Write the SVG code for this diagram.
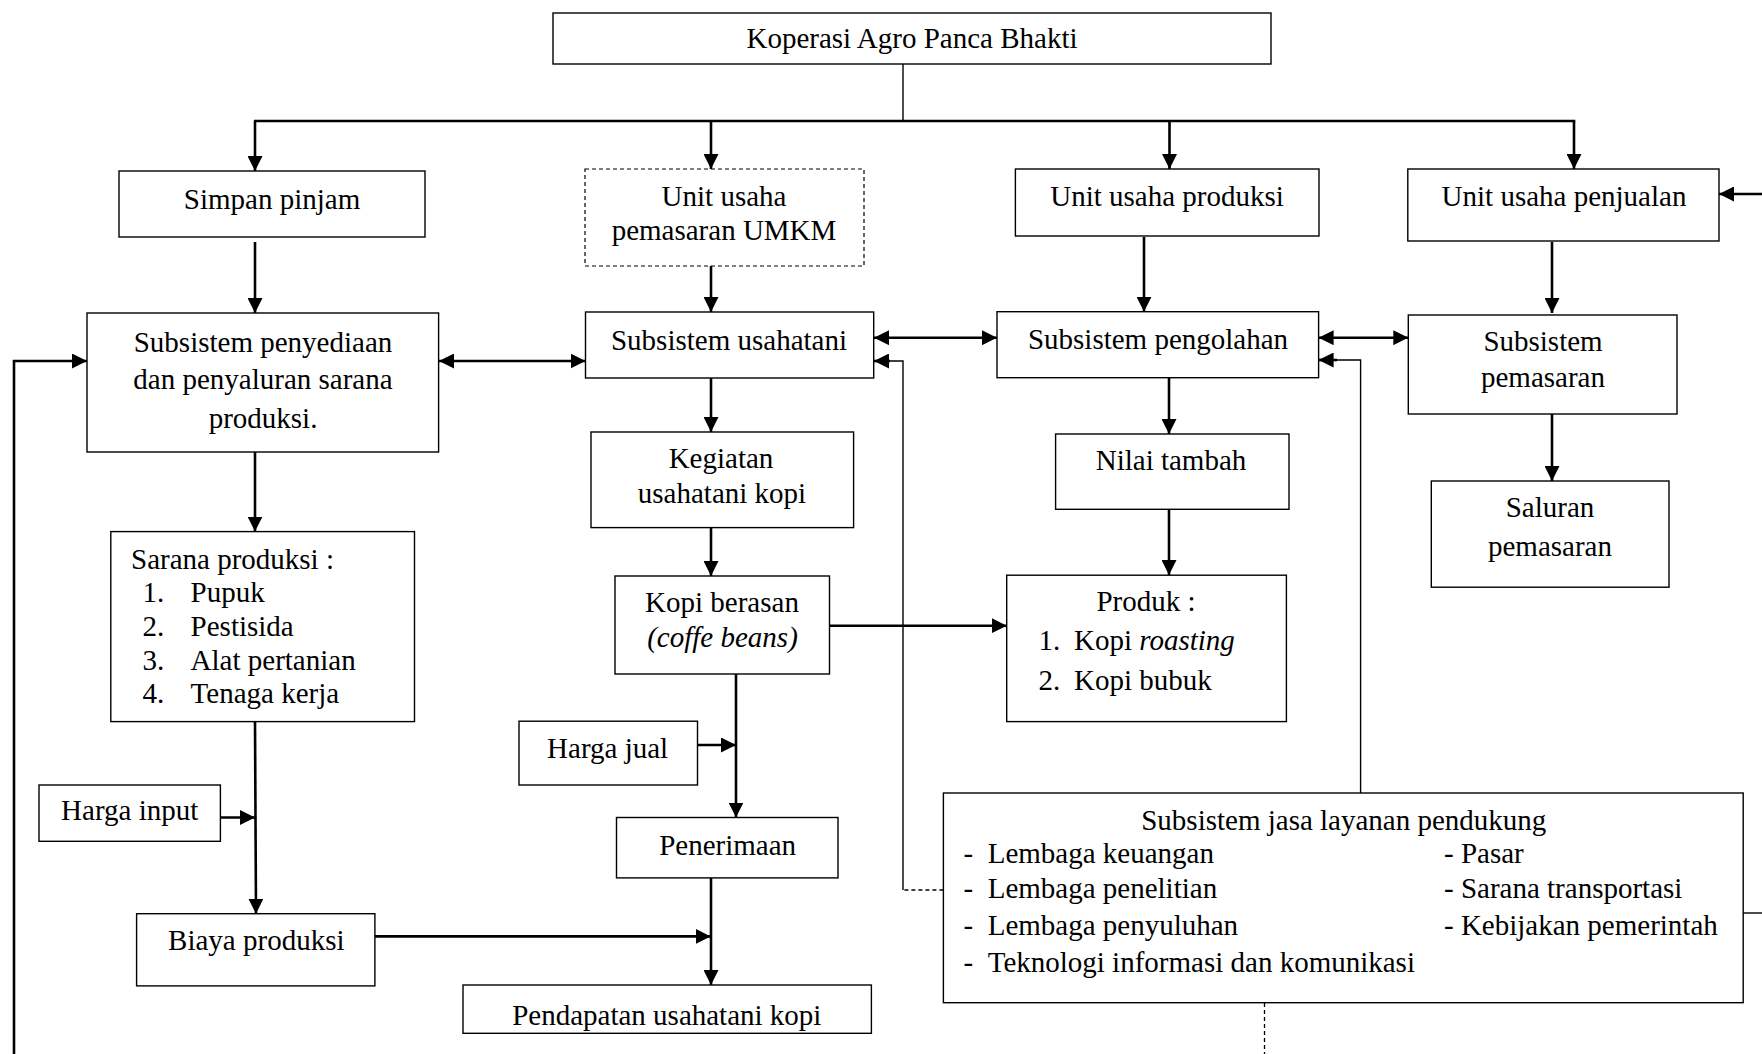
<svg xmlns="http://www.w3.org/2000/svg" width="1762" height="1054" viewBox="0 0 1762 1054">
<defs>
<marker id="ah" viewBox="0 0 10 10" refX="10" refY="5" markerWidth="15" markerHeight="15" markerUnits="userSpaceOnUse" orient="auto-start-reverse" preserveAspectRatio="none"><path d="M0,0 L10,5 L0,10 z" fill="#000"/></marker>
<clipPath id="clipPend"><rect x="463" y="985" width="408.4" height="47"/></clipPath>
<style>
.box{fill:#fff;stroke:#000;stroke-width:1.4}
.dbox{fill:#fff;stroke:#000;stroke-width:1.2;stroke-dasharray:4 3}
text{font-family:"Liberation Serif","Times New Roman",serif;font-size:29px;fill:#000}
.c{text-anchor:middle}
.it{font-style:italic}
.ln{fill:none;stroke:#000;stroke-width:2.6}
.thin{fill:none;stroke:#000;stroke-width:1.4}
.dash{fill:none;stroke:#000;stroke-width:1.3;stroke-dasharray:4 3}
</style>
</defs>
<rect width="1762" height="1054" fill="#fff"/>

<g id="connectors">
<line class="thin" x1="903" y1="64" x2="903" y2="121"/>
<line class="ln" x1="254" y1="121" x2="1575.3" y2="121"/>
<line class="ln" x1="255" y1="121" x2="255" y2="171" marker-end="url(#ah)"/>
<line class="ln" x1="711" y1="121" x2="711" y2="169" marker-end="url(#ah)"/>
<line class="ln" x1="1169.5" y1="121" x2="1169.5" y2="169" marker-end="url(#ah)"/>
<line class="ln" x1="1574" y1="121" x2="1574" y2="169" marker-end="url(#ah)"/>
<line class="ln" x1="255" y1="242" x2="255" y2="313" marker-end="url(#ah)"/>
<line class="ln" x1="711" y1="266" x2="711" y2="312" marker-end="url(#ah)"/>
<line class="ln" x1="439" y1="361" x2="585.5" y2="361" marker-start="url(#ah)" marker-end="url(#ah)"/>
<polyline class="ln" points="14,1054 14,361 87,361" marker-end="url(#ah)"/>
<line class="ln" x1="711" y1="378" x2="711" y2="432" marker-end="url(#ah)"/>
<line class="ln" x1="711" y1="528" x2="711" y2="576" marker-end="url(#ah)"/>
<line class="ln" x1="829.5" y1="625.7" x2="1006.7" y2="625.7" marker-end="url(#ah)"/>
<line class="ln" x1="1144" y1="237" x2="1144" y2="311.7" marker-end="url(#ah)"/>
<line class="ln" x1="874" y1="337.7" x2="997" y2="337.7" marker-start="url(#ah)" marker-end="url(#ah)"/>
<line class="dash" x1="943.4" y1="890" x2="903" y2="890"/>
<polyline class="thin" points="903,890 903,361 888,361"/>
<line class="ln" x1="890" y1="361" x2="874" y2="361" marker-end="url(#ah)"/>
<line class="ln" x1="1318.6" y1="337.7" x2="1408.3" y2="337.7" marker-start="url(#ah)" marker-end="url(#ah)"/>
<polyline class="thin" points="1360.6,793 1360.6,360 1335,360"/>
<line class="ln" x1="1337" y1="360" x2="1318.6" y2="360" marker-end="url(#ah)"/>
<line class="ln" x1="1552" y1="242" x2="1552" y2="313" marker-end="url(#ah)"/>
<line class="ln" x1="1169" y1="378" x2="1169" y2="434" marker-end="url(#ah)"/>
<line class="ln" x1="1552" y1="414" x2="1552" y2="481" marker-end="url(#ah)"/>
<line class="ln" x1="1169" y1="509" x2="1169" y2="575" marker-end="url(#ah)"/>
<line class="ln" x1="255" y1="452" x2="255" y2="531.6" marker-end="url(#ah)"/>
<line class="ln" x1="255" y1="721.6" x2="256" y2="913.7" marker-end="url(#ah)"/>
<line class="ln" x1="220.4" y1="817.5" x2="255" y2="817.5" marker-end="url(#ah)"/>
<line class="ln" x1="375" y1="936.4" x2="710.7" y2="936.4" marker-end="url(#ah)"/>
<line class="ln" x1="736" y1="674" x2="736" y2="817.5" marker-end="url(#ah)"/>
<line class="ln" x1="697.5" y1="745" x2="736" y2="745" marker-end="url(#ah)"/>
<line class="ln" x1="711" y1="878" x2="711" y2="985" marker-end="url(#ah)"/>
<line class="ln" x1="1762" y1="194" x2="1719" y2="194" marker-end="url(#ah)"/>
<line class="thin" x1="1743" y1="913" x2="1762" y2="913"/>
<line class="dash" x1="1264.5" y1="1003" x2="1264.5" y2="1054"/>
</g>

<g id="koperasi"><rect class="box" x="553" y="13" width="718" height="51"/><text class="c" x="912" y="48">Koperasi Agro Panca Bhakti</text></g>
<g id="simpan-pinjam"><rect class="box" x="119" y="171" width="306" height="66"/><text class="c" x="272" y="209">Simpan pinjam</text></g>
<g id="unit-umkm"><rect class="dbox" x="585" y="169" width="279" height="97"/><text class="c" x="724" y="206">Unit usaha</text><text class="c" x="724" y="240">pemasaran UMKM</text></g>
<g id="unit-produksi"><rect class="box" x="1015.4" y="169" width="303.6" height="67"/><text class="c" x="1167" y="206">Unit usaha produksi</text></g>
<g id="unit-penjualan"><rect class="box" x="1407.8" y="169" width="311.2" height="72"/><text class="c" x="1564" y="206">Unit usaha penjualan</text></g>
<g id="subsistem-penyediaan"><rect class="box" x="87" y="313" width="351.6" height="139"/><text class="c" x="263" y="352">Subsistem penyediaan</text><text class="c" x="263" y="389">dan penyaluran sarana</text><text class="c" x="263" y="428">produksi.</text></g>
<g id="subsistem-usahatani"><rect class="box" x="585.5" y="312" width="288.2" height="66"/><text class="c" x="729" y="350">Subsistem usahatani</text></g>
<g id="subsistem-pengolahan"><rect class="box" x="997" y="311.7" width="321.6" height="66"/><text class="c" x="1158" y="349">Subsistem pengolahan</text></g>
<g id="subsistem-pemasaran"><rect class="box" x="1408.3" y="315" width="268.7" height="99"/><text class="c" x="1543" y="351">Subsistem</text><text class="c" x="1543" y="387">pemasaran</text></g>
<g id="kegiatan"><rect class="box" x="591" y="432" width="262.6" height="95.6"/><text class="c" x="721" y="468">Kegiatan</text><text class="c" x="722" y="503">usahatani kopi</text></g>
<g id="nilai-tambah"><rect class="box" x="1055.6" y="434" width="233.4" height="75.3"/><text class="c" x="1171" y="470">Nilai tambah</text></g>
<g id="saluran"><rect class="box" x="1431.3" y="481" width="237.7" height="106.2"/><text class="c" x="1550" y="517">Saluran</text><text class="c" x="1550" y="556">pemasaran</text></g>
<g id="sarana"><rect class="box" x="110.8" y="531.6" width="303.7" height="190"/>
<text x="131" y="569">Sarana produksi :</text>
<text x="142.4" y="602">1.<tspan x="190.6">Pupuk</tspan></text>
<text x="142.4" y="635.6">2.<tspan x="190.6">Pestisida</tspan></text>
<text x="142.4" y="669.6">3.<tspan x="190.6">Alat pertanian</tspan></text>
<text x="142.4" y="703.3">4.<tspan x="190.6">Tenaga kerja</tspan></text></g>
<g id="kopi-berasan"><rect class="box" x="615" y="576" width="214.5" height="98"/><text class="c" x="722" y="612">Kopi berasan</text><text class="c it" x="722.5" y="646.5">(coffe beans)</text></g>
<g id="produk"><rect class="box" x="1006.7" y="575.2" width="279.7" height="146.4"/><text class="c" x="1146" y="611">Produk :</text><text x="1038.4" y="650">1.<tspan x="1074">Kopi </tspan><tspan class="it">roasting</tspan></text><text x="1038.4" y="690">2.<tspan x="1074">Kopi bubuk</tspan></text></g>
<g id="harga-jual"><rect class="box" x="519" y="721.2" width="178.5" height="63.8"/><text class="c" x="607.6" y="758">Harga jual</text></g>
<g id="harga-input"><rect class="box" x="39" y="785" width="181.4" height="56.3"/><text class="c" x="129.7" y="820.4">Harga input</text></g>
<g id="penerimaan"><rect class="box" x="616.5" y="817.5" width="221.5" height="60.4"/><text class="c" x="727.6" y="855">Penerimaan</text></g>
<g id="biaya-produksi"><rect class="box" x="136.6" y="913.7" width="238.3" height="72.2"/><text class="c" x="256.3" y="950.4">Biaya produksi</text></g>
<g id="pendapatan"><rect class="box" x="463" y="985" width="408.4" height="48.3"/><text class="c" x="666.8" y="1025" clip-path="url(#clipPend)">Pendapatan usahatani kopi</text></g>
<g id="subsistem-jasa"><rect class="box" x="943.4" y="793" width="799.8" height="209.7"/>
<text class="c" x="1343.8" y="829.6">Subsistem jasa layanan pendukung</text>
<text x="963.6" y="862.5">-<tspan x="987.7">Lembaga keuangan</tspan></text>
<text x="963.6" y="898.4">-<tspan x="987.7">Lembaga penelitian</tspan></text>
<text x="963.6" y="935">-<tspan x="987.7">Lembaga penyuluhan</tspan></text>
<text x="963.6" y="971.6">-<tspan x="987.7">Teknologi informasi dan komunikasi</tspan></text>
<text x="1444" y="862.5">- Pasar</text>
<text x="1444" y="898.4">- Sarana transportasi</text>
<text x="1444" y="935">- Kebijakan pemerintah</text></g>
</svg>
